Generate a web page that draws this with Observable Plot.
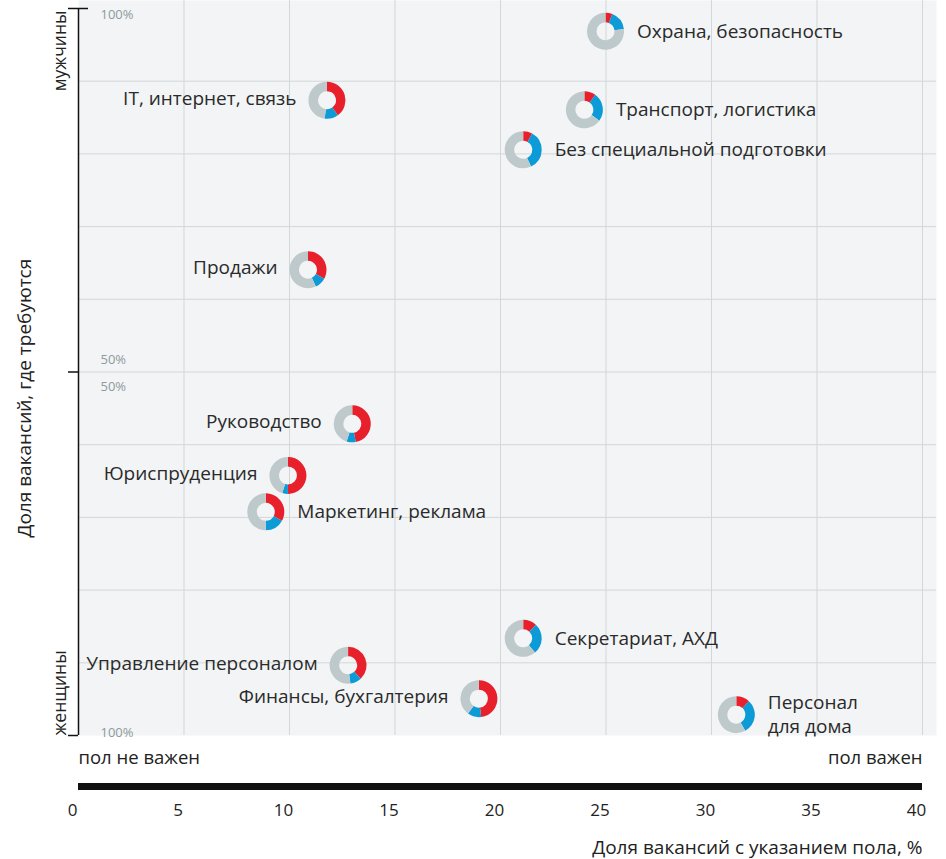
<!DOCTYPE html>
<html><head><meta charset="utf-8">
<script src="https://cdn.jsdelivr.net/npm/d3@7"></script>
<script src="https://cdn.jsdelivr.net/npm/@observablehq/plot@0.6"></script>
<style>body{margin:0;background:#fff;}</style>
</head><body><div id="chart"></div>
<script>
const categories = ["Охрана, безопасность","IT, интернет, связь","Транспорт, логистика","Без специальной подготовки","Продажи","Руководство","Юриспруденция","Маркетинг, реклама","Секретариат, АХД","Управление персоналом","Финансы, бухгалтерия","Персонал\nдля дома"];
const genderShare = [25.0, 11.8, 24.0, 21.1, 10.9, 13.0, 9.95, 8.9, 21.1, 12.8, 19.0, 31.2];
const menShare   = [96.8, 87.3, 86.0, 80.5, 64.0, 42.8, 35.7, 30.7, 13.3, 9.6, 5.0, 2.8];
const redPart    = [6, 40, 10, 8, 33, 47, 50, 33, 12, 38, 48, 12];
const bluePart   = [17, 12, 25, 35, 10, 8, 5, 17, 27, 10, 12, 30];
const labelSide  = ["right","left","right","right","left","left","left","right","right","left","left","right"];
const xTicks = [0,5,10,15,20,25,30,35,40];
const yGrid = [10,20,30,40,50,60,70,80,90];

const data = categories.map((c,i)=>({name:c, x:genderShare[i], y:menShare[i], red:redPart[i], blue:bluePart[i], side:labelSide[i]}));
const FONT = "Open Sans, sans-serif";

const plot = Plot.plot({
  width:946, height:859,
  marginLeft:78, marginRight:24, marginTop:8, marginBottom:124,
  x:{domain:[0,40], axis:null},
  y:{domain:[0,100], axis:null},
  style:{fontFamily:FONT, background:"#fff", color:"#222"},
  marks:[
    Plot.frame({fill:"#f2f4f5", stroke:null, insetTop:-8, insetRight:-14}),
    Plot.gridX(xTicks.slice(1), {stroke:"#d3d7d9", strokeOpacity:1, insetTop:-8}),
    Plot.gridY(yGrid, {stroke:"#d3d7d9", strokeOpacity:1, insetRight:-14}),
    Plot.ruleX([0], {stroke:"#111", strokeWidth:1.5}),
    Plot.axisY({ticks:[0,50,100], tickSize:10, tickFormat:()=>"", label:null, stroke:"#111", strokeWidth:1.5}),
    Plot.axisY({ticks:[100], tickSize:10, dx:10, tickFormat:()=>"", label:null, stroke:"#111", strokeWidth:1.5}),
    Plot.text(["100%"], {x:0, y:100, dx:22, dy:6, textAnchor:"start", fill:"#8e9a9e", fontSize:13}),
    Plot.text(["50%"], {x:0, y:50, dx:22, dy:-12, textAnchor:"start", fill:"#8e9a9e", fontSize:13}),
    Plot.text(["50%"], {x:0, y:50, dx:22, dy:15, textAnchor:"start", fill:"#8e9a9e", fontSize:13}),
    Plot.text(["100%"], {x:0, y:0, dx:22, dy:-3, textAnchor:"start", fill:"#8e9a9e", fontSize:13}),
    Plot.text(["мужчины"], {x:0, y:100, dx:-18, dy:2, rotate:-90, textAnchor:"end", fontSize:17.5, fill:"#222"}),
    Plot.text(["женщины"], {x:0, y:0, dx:-18, dy:0, rotate:-90, textAnchor:"start", fontSize:17.5, fill:"#222"}),
    Plot.text(["Доля вакансий, где требуются"], {x:0, y:46.4, dx:-54, rotate:-90, textAnchor:"middle", fontSize:19, fill:"#222"}),
    Plot.text(data.filter(d=>d.side==="right"), {x:"x", y:"y", text:"name", dx:31, dy:-2, textAnchor:"start", fontSize:19, fill:"#2a2a2a", lineHeight:1.3}),
    Plot.text(data.filter(d=>d.side==="left"), {x:"x", y:"y", text:"name", dx:-31, dy:-2, textAnchor:"end", fontSize:19, fill:"#2a2a2a"}),
    Plot.text(["пол не важен"], {frameAnchor:"bottom-left", dy:28, textAnchor:"start", fontSize:18.5, fill:"#222"}),
    Plot.text(["пол важен"], {frameAnchor:"bottom-right", dy:28, textAnchor:"end", fontSize:18.5, fill:"#222"}),
    Plot.ruleY([0], {x1:0, x2:40, dy:51, stroke:"#111", strokeWidth:7}),
    Plot.text(xTicks, {x:d=>d, frameAnchor:"bottom", dy:80, dx:-6, fontSize:17, fill:"#222"}),
    Plot.text(["Доля вакансий с указанием пола, %"], {frameAnchor:"bottom-right", dy:118, textAnchor:"end", fontSize:19, fill:"#222"})
  ]
});

const xs = plot.scale("x"), ys = plot.scale("y");
const svg = d3.select(plot);
const pie = d3.pie().sort(null).value(v=>v);
const arc = d3.arc().innerRadius(9).outerRadius(18.5);
const colors = ["#e8202b", "#0d9bd8", "#bec9cb"];
const g = svg.append("g").attr("class","donuts");
data.forEach(d=>{
  const gg = g.append("g").attr("transform", `translate(${xs.apply(d.x)},${ys.apply(d.y)})`);
  gg.selectAll("path").data(pie([d.red, d.blue, 100-d.red-d.blue])).join("path")
    .attr("d", arc).attr("fill", (p,i)=>colors[i]);
});
document.getElementById("chart").append(plot);
</script>
</body></html>
